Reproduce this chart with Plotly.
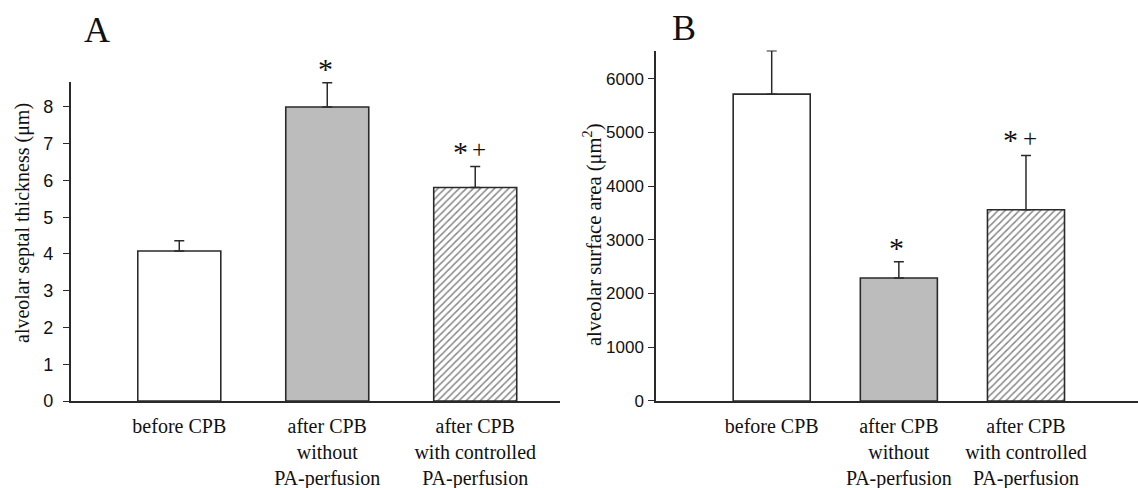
import plotly.graph_objects as go

# ---------------- data ----------------
categories = ["before CPB", "after CPB<br>without<br>PA-perfusion", "after CPB<br>with controlled<br>PA-perfusion"]
septal_mean = [4.08, 8.0, 5.81]
septal_sem = [0.28, 0.66, 0.57]
surface_mean = [5710, 2290, 3560]
surface_sem = [810, 300, 1010]
sig_a = ["", "*", "* +"]
sig_b = ["", "*", "* +"]
ticks_a = [0, 1, 2, 3, 4, 5, 6, 7, 8]
ticks_b = [0, 1000, 2000, 3000, 4000, 5000, 6000]

# ---------------- styling ----------------
fills = ["white", "#bcbcbc", "white"]
patterns = ["", "", "/"]
edge = "#2a2a2a"
serif = "Liberation Serif, Times New Roman, serif"
sans = "Liberation Sans, Arial, sans-serif"
xpos = list(range(len(categories)))

fig = go.Figure()


def add_bars(means, sems, xa, ya, width):
    for i in xpos:
        pat = dict(shape=patterns[i], fgcolor="#8a8a8a", bgcolor=fills[i], size=5, solidity=0.3,
                   fillmode="replace") if patterns[i] else None
        fig.add_trace(go.Bar(
            x=[xpos[i]], y=[means[i]], xaxis=xa, yaxis=ya, width=width,
            marker=dict(color=fills[i], line=dict(color=edge, width=1.6), pattern=pat),
            error_y=dict(type="data", symmetric=False, array=[sems[i]], arrayminus=[0],
                         color=edge, thickness=1.5, width=5),
            showlegend=False, hoverinfo="skip"))


add_bars(septal_mean, septal_sem, "x", "y", 0.561)
add_bars(surface_mean, surface_sem, "x2", "y2", 0.606)


def add_sig(means, sems, labels, xr, yr):
    for i, lab in enumerate(labels):
        if not lab:
            continue
        top = means[i] + sems[i]
        if "+" in lab:
            fig.add_annotation(x=xpos[i], y=top, xref=xr, yref=yr, text="*",
                               showarrow=False, yanchor="bottom", xanchor="center",
                               xshift=-15, yshift=-3,
                               font=dict(family=serif, size=30, color="#111"))
            fig.add_annotation(x=xpos[i], y=top, xref=xr, yref=yr, text="+",
                               showarrow=False, yanchor="middle", xanchor="center",
                               xshift=4, yshift=17,
                               font=dict(family=serif, size=25, color="#111"))
        else:
            fig.add_annotation(x=xpos[i], y=top, xref=xr, yref=yr, text="*",
                               showarrow=False, yanchor="bottom", xanchor="center",
                               xshift=-2, yshift=-4,
                               font=dict(family=serif, size=30, color="#111"))


add_sig(septal_mean, septal_sem, sig_a, "x", "y")
add_sig(surface_mean, surface_sem, sig_b, "x2", "y2")

axis_common = dict(showline=True, linecolor=edge, linewidth=1.5, showgrid=False, zeroline=False,
                   automargin=False)

fig.update_layout(
    width=1138, height=488,
    margin=dict(l=0, r=0, t=0, b=87, autoexpand=False),
    plot_bgcolor="white", paper_bgcolor="white",
    barmode="overlay",
    xaxis=dict(domain=[0.0621, 0.4921], range=[-0.734, 2.573], tickvals=xpos, ticktext=categories,
               ticks="", ticklabelstandoff=6,
               tickfont=dict(family=serif, size=20, color="#111"), anchor="y", **axis_common),
    yaxis=dict(domain=[0, 0.7955], range=[0, 8.68], tickvals=ticks_a, ticks="outside", ticklen=6,
               tickcolor=edge, tickwidth=1.2, ticklabelstandoff=6,
               tickfont=dict(family=sans, size=18, color="#111"), anchor="x", **axis_common),
    xaxis2=dict(domain=[0.5765, 1.0], range=[-0.9096, 2.881], tickvals=xpos, ticktext=categories,
                ticks="", ticklabelstandoff=6,
                tickfont=dict(family=serif, size=20, color="#111"), anchor="y2", **axis_common),
    yaxis2=dict(domain=[0, 0.874], range=[0, 6522], tickvals=ticks_b, ticks="outside", ticklen=6,
                tickcolor=edge, tickwidth=1.2, ticklabelstandoff=1,
                tickfont=dict(family=sans, size=17, color="#111"), anchor="x2", **axis_common),
)

# panel letters and axis titles
lab = dict(xref="paper", yref="paper", showarrow=False, xanchor="center", yanchor="middle")
fig.add_annotation(x=97 / 1138, y=(401 - 30) / 401, text="A",
                   font=dict(family=serif, size=36, color="#111"), **lab)
fig.add_annotation(x=684 / 1138, y=(401 - 28) / 401, text="B",
                   font=dict(family=serif, size=36, color="#111"), **lab)
fig.add_annotation(x=22 / 1138, y=(401 - 223) / 401,
                   text="alveolar septal thickness (μm)", textangle=-90,
                   font=dict(family=serif, size=20, color="#111"), **lab)
fig.add_annotation(x=592 / 1138, y=(401 - 235) / 401,
                   text="alveolar surface area (μm<sup>2</sup>)", textangle=-90,
                   font=dict(family=serif, size=20.5, color="#111"), **lab)

fig.write_html("out.html", config={"displayModeBar": False},
               post_script="document.body.style.margin='0';document.body.style.overflow='hidden';")
